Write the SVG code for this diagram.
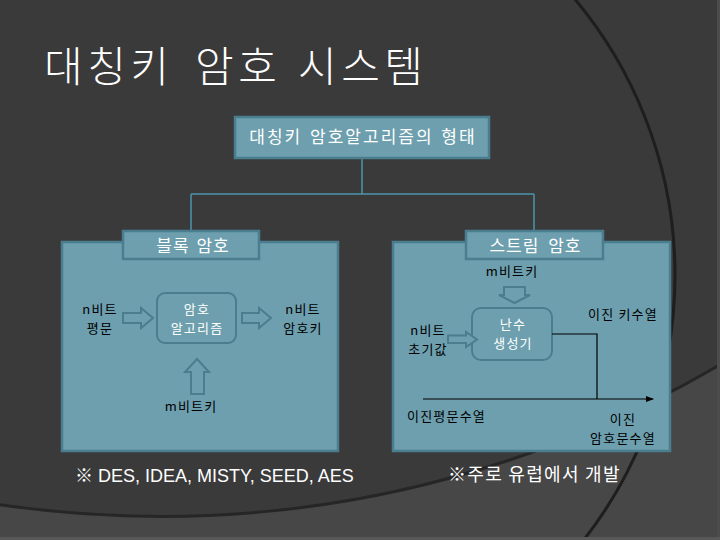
<svg xmlns="http://www.w3.org/2000/svg" width="720" height="540" viewBox="0 0 720 540">
<defs>
<style>
.kr{font-family:"Noto Sans CJK KR","Noto Sans",sans-serif;}
.body{font-size:13px;fill:#000;letter-spacing:1.2px;}
.wh{fill:#fff;}
.mid{text-anchor:middle;}
.panel{fill:#6d9fae;stroke:#4a7d8e;stroke-width:2.5;}
.hollow{fill:#6d9fae;stroke:#4a7d8e;stroke-width:2;stroke-linejoin:miter;}
.conn{fill:none;stroke:#4d93ac;stroke-width:1.5;}
.blk{fill:none;stroke:#000;stroke-width:1.2;}
</style>
<marker id="ah" markerWidth="8" markerHeight="6" refX="7" refY="3" orient="auto" markerUnits="userSpaceOnUse">
<path d="M0,0 L8,3 L0,6 Z" fill="#000"/>
</marker>
</defs>

<g id="background">
<rect x="0" y="0" width="720" height="540" fill="#474747"/>
<circle cx="161.5" cy="-585.6" r="1102" fill="#3a3a3a" stroke="#262626" stroke-width="3"/>
<circle cx="245" cy="275" r="430" fill="none" stroke="#1e1e1e" stroke-width="3"/>
<rect x="717" y="0" width="3" height="540" fill="#4c4c4c"/>
<rect x="0" y="537" width="720" height="3" fill="#585858"/>
</g>

<text id="title" class="kr wh" y="82" font-size="42" font-weight="300" letter-spacing="4.5"><tspan x="44">대칭키</tspan><tspan x="195">암호</tspan><tspan x="298">시스템</tspan></text>

<g id="connectors">
<path class="conn" d="M362,158 V194 M191,194 H534 M191,194 V231 M534,194 V231"/>
</g>

<g id="root">
<rect class="panel" x="235" y="117" width="254" height="41"/>
<text class="kr wh mid" x="363" y="143" font-size="17" letter-spacing="2" word-spacing="2">대칭키 암호알고리즘의 형태</text>
</g>

<g id="block-panel">
<rect class="panel" x="62" y="242" width="276" height="209"/>
</g>
<g id="block-label">
<rect class="panel" x="123" y="231" width="136" height="28"/>
<text class="kr wh mid" x="193" y="252" font-size="17" letter-spacing="1" word-spacing="2">블록 암호</text>
</g>

<g id="stream-panel">
<rect class="panel" x="393" y="242" width="277" height="209"/>
</g>
<g id="stream-label">
<rect class="panel" x="466" y="231" width="137" height="28"/>
<text class="kr wh mid" x="535.5" y="252" font-size="17" letter-spacing="1" word-spacing="4">스트림 암호</text>
</g>

<g id="block-plaintext">
<text class="kr body mid" x="100" y="314">n비트</text>
<text class="kr body mid" x="100" y="332.5">평문</text>
</g>
<g id="block-arrow-in">
<polygon class="hollow" points="123,313 141,313 141,308 153,318 141,328 141,323 123,323"/>
</g>
<g id="block-algorithm">
<rect class="hollow" x="157" y="293" width="79" height="50" rx="8" ry="8"/>
<text class="kr body wh mid" x="197" y="314">암호</text>
<text class="kr body wh mid" x="197" y="332.5">알고리즘</text>
</g>
<g id="block-arrow-out">
<polygon class="hollow" points="242,313 259,313 259,308 271,318 259,328 259,323 242,323"/>
</g>
<g id="block-ciphertext">
<text class="kr body mid" x="303" y="314">n비트</text>
<text class="kr body mid" x="303" y="332.5">암호키</text>
</g>
<g id="block-key-arrow">
<polygon class="hollow" points="197,359 209,372 204,372 204,394 191,394 191,372 185,372"/>
</g>
<g id="block-key">
<text class="kr body mid" x="191" y="411">m비트키</text>
</g>

<g id="stream-key">
<text class="kr body mid" x="512" y="276">m비트키</text>
</g>
<g id="stream-key-arrow">
<polygon class="hollow" points="504,287 525,287 525,295 530,295 514.5,303 499,295 504,295"/>
</g>
<g id="stream-generator">
<rect class="hollow" x="472" y="308" width="80" height="52" rx="9" ry="9"/>
<text class="kr body wh mid" x="513" y="329">난수</text>
<text class="kr body wh mid" x="513" y="347.5">생성기</text>
</g>
<g id="stream-iv">
<text class="kr body mid" x="428" y="335">n비트</text>
<text class="kr body mid" x="428" y="353.5">초기값</text>
</g>
<g id="stream-iv-arrow">
<polygon class="hollow" points="448,335.5 466,335.5 466,332 477,339.5 466,347 466,343 448,343"/>
</g>
<g id="stream-lines">
<path class="blk" d="M552,334 H597 V399"/>
<path class="blk" d="M423,399 H653" marker-end="url(#ah)"/>
</g>
<g id="stream-keystream">
<text class="kr body mid" x="623" y="319">이진 키수열</text>
</g>
<g id="stream-plain">
<text class="kr body" x="407" y="421">이진평문수열</text>
</g>
<g id="stream-cipher">
<text class="kr body mid" x="623" y="424">이진</text>
<text class="kr body mid" x="623" y="442.5">암호문수열</text>
</g>

<text id="note-block" class="wh" x="75" y="482" font-size="18" font-family="'Liberation Sans','Noto Sans CJK KR',sans-serif">※ DES, IDEA, MISTY, SEED, AES</text>
<text id="note-stream" class="kr wh" x="448" y="481" font-size="18" letter-spacing="1.3">※주로 유럽에서 개발</text>
</svg>
